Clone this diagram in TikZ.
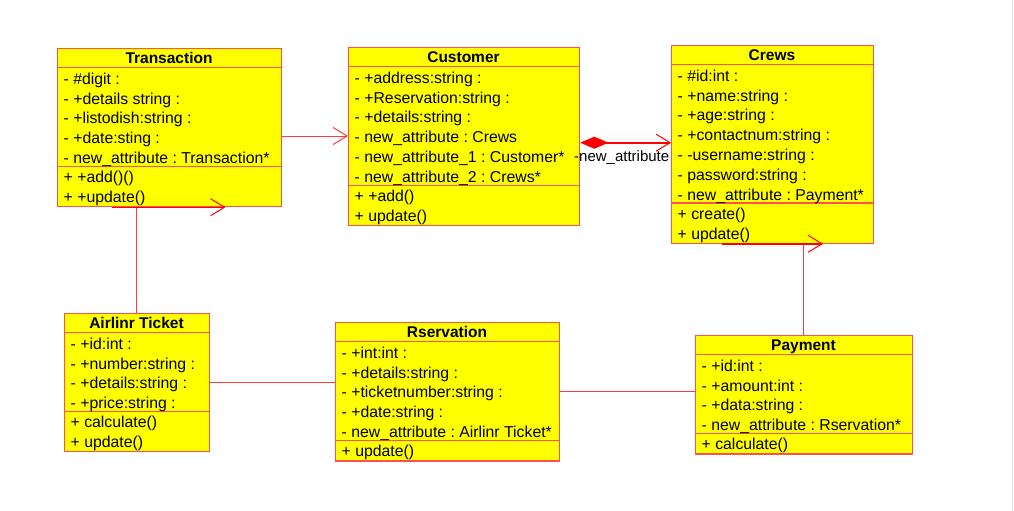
\documentclass[tikz,border=0pt]{standalone}
\usepackage{fontspec}
\setmainfont{Liberation Sans}
\usetikzlibrary{arrows.meta,calc}
\definecolor{boxred}{RGB}{255,80,80}
\definecolor{boxyel}{RGB}{255,255,0}
\definecolor{linered}{RGB}{255,60,60}
\definecolor{edgegray}{RGB}{225,225,225}
\tikzset{
  classbox/.style={draw=boxred, fill=boxyel, line width=1.3pt, inner sep=0pt, rectangle},
  classline/.style={draw=boxred, line width=1.3pt},
  titletext/.style={font=\fontsize{15.5}{18}\selectfont\bfseries, inner sep=0pt, anchor=base},
  attrtext/.style={font=\fontsize{15.8}{18}\selectfont, inner sep=0pt, anchor=base west},
  roletext/.style={font=\fontsize{15}{18}\selectfont, inner sep=0pt, anchor=base west},
  assoc/.style={draw=linered, line width=1pt},
  opentip/.style={-{Straight Barb[length=14pt,width=17pt,line width=1pt]}},
  edgetip/.style={draw=red, line width=1.4pt, -{Straight Barb[length=14pt,width=17pt,line width=1pt]}},
}
% #1 name, #2 x, #3 y, #4 width, #5 n attrs, #6 n methods, #7 title, #8 attrs, #9 methods
\newcommand\uclass[9]{%
  \pgfmathsetmacro\clha{19.5+#5*19.8}%
  \pgfmathsetmacro\clhb{\clha+#6*19.7}%
  \node[classbox, minimum width=#4pt, minimum height=\clhb pt, anchor=north west] (#1) at (#2,#3) {};
  \draw[classline] ({#2},{#3+19.5}) -- ++(#4,0);
  \draw[classline] ({#2},{#3+\clha}) -- ++(#4,0);
  \node[titletext] (#1-title) at ({#2+#4/2},{#3+15.3}) {#7};
  \foreach \t [count=\i] in {#8} {
    \node[attrtext] (#1-a\i) at ({#2+6.5},{#3+19.5+(\i-1)*19.8+16.7}) {\t};
  }
  \foreach \t [count=\i] in {#9} {
    \node[attrtext] (#1-m\i) at ({#2+6.5},{#3+\clha+(\i-1)*19.7+16.2}) {\t};
  }
}
\frenchspacing
\begin{document}
\begin{tikzpicture}[x=1pt,y=-1pt]
\fill[white] (0,0) rectangle (1014,511);
\useasboundingbox (0,0) rectangle (1014,511);
\draw[edgegray, line width=0.8pt] (1012.5,0) -- (1012.5,511);

\uclass{trans}{57}{48}{224}{5}{2}{Transaction}%
  {- \#digit :, - +details string :, - +listodish:string :, - +date:sting :, - new\_attribute : Transaction*}%
  {+ +add()(), + +update()}
\uclass{cust}{348}{47}{231}{6}{2}{Customer}%
  {- +address:string :, - +Reservation:string :, - +details:string :, - new\_attribute : Crews, - new\_attribute\_1 : Customer*, - new\_attribute\_2 : Crews*}%
  {+ +add(), + update()}
\uclass{crews}{671}{45}{202}{7}{2}{Crews}%
  {- \#id:int :, - +name:string :, - +age:string :, - +contactnum:string :, - -username:string :, - password:string :, - new\_attribute : Payment*}%
  {+ create(), + update()}
\uclass{ticket}{64}{313}{145}{4}{2}{Airlinr Ticket}%
  {- +id:int :, - +number:string :, - +details:string :, - +price:string :}%
  {+ calculate(), + update()}
\uclass{res}{335}{322}{224}{5}{1}{Rservation}%
  {- +int:int :, - +details:string :, - +ticketnumber:string :, - +date:string :, - new\_attribute : Airlinr Ticket*}%
  {+ update()}
\uclass{pay}{695}{335}{217}{4}{1}{Payment}%
  {- +id:int :, - +amount:int :, - +data:string :, - new\_attribute : Rservation*}%
  {+ calculate()}

% helper levels
\coordinate (y1) at (0,136);
\coordinate (y2) at (0,142.7);
\coordinate (x3) at (136.5,0);
\coordinate (y4) at (0,382);
\coordinate (y5) at (0,391);
\coordinate (x6) at (803.5,0);

% Transaction -> Customer
\draw[assoc, opentip] (trans.east |- y1) -- (cust.west |- y1);
% Customer (composition) -> Crews
\draw[draw=red, line width=2pt, {Diamond[length=28pt,width=12pt,line width=0.5pt]}-{Straight Barb[length=14pt,width=17pt,line width=1pt]}]
  (cust.east |- y2) -- (crews.west |- y2);
\node[roletext] (role) at (574,161) {-new\_attribute};
% Airlinr Ticket -> Transaction
\draw[assoc] (ticket.north -| x3) -- (trans.south -| x3);
\draw[edgetip] ($(trans.south west)+(55,0)$) -- ($(trans.south west)+(168.5,0)$);
% Airlinr Ticket -- Rservation
\draw[assoc] (ticket.east |- y4) -- (res.west |- y4);
% Rservation -- Payment
\draw[assoc] (res.east |- y5) -- (pay.west |- y5);
% Payment -> Crews
\draw[assoc] (pay.north -| x6) -- (crews.south -| x6);
\draw[edgetip] ($(crews.south west)+(51,0)$) -- ($(crews.south west)+(152,0)$);
\end{tikzpicture}
\end{document}
